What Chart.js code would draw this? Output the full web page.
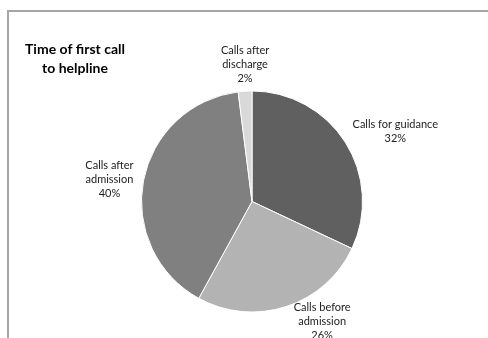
<!DOCTYPE html>
<html>
<head>
<meta charset="utf-8">
<script src="https://cdn.jsdelivr.net/npm/chart.js@4/dist/chart.umd.min.js"></script>
<style>
  html, body { margin: 0; padding: 0; background: #fff; overflow: hidden; }
  #wrap { position: relative; width: 488px; height: 338px; }
  #frame {
    position: absolute; left: 7px; top: 10px; width: 600px; height: 400px;
    border-left: 2px solid #a6a6a6; border-top: 2px solid #a6a6a6;
  }
  #chart { position: absolute; left: 0; top: 0; }
</style>
</head>
<body>
<div id="wrap">
  <div id="frame"></div>
  <canvas id="chart" width="488" height="338"></canvas>
</div>
<script>
const categories = ["Calls for guidance", "Calls before admission", "Calls after admission", "Calls after discharge"];
const labelLines = [["Calls for guidance"], ["Calls before", "admission"], ["Calls after", "admission"], ["Calls after", "discharge"]];
const percents = [32, 26, 40, 2];
const sliceColors = ["#606060", "#b3b3b3", "#808080", "#d9d9d9"];

// nudge of each label away from the edge of its slice
const labelOffsets = [
  { dx: 50, dy: -11 },
  { dx: 36, dy: 15 },
  { dx: -34, dy: -1 },
  { dx: 0, dy: -27 }
];

const labelFont = "11px Lato, 'DejaVu Sans', sans-serif";

const pieLabels = {
  id: "pieLabels",
  afterDraw(chart) {
    const ctx = chart.ctx;
    ctx.save();

    // title block on the left
    ctx.fillStyle = "#000";
    ctx.font = "bold 14px Lato, 'DejaVu Sans', sans-serif";
    ctx.textAlign = "center";
    ctx.textBaseline = "middle";
    ctx.fillText("Time of first call", 75, 49);
    ctx.fillText("to helpline", 75, 68);

    ctx.font = labelFont;
    ctx.fillStyle = "#222";
    const meta = chart.getDatasetMeta(0);
    meta.data.forEach((arc, i) => {
      const mid = (arc.startAngle + arc.endAngle) / 2;
      const ex = arc.x + Math.cos(mid) * arc.outerRadius;
      const ey = arc.y + Math.sin(mid) * arc.outerRadius;
      const cx = ex + labelOffsets[i].dx;
      const cy = ey + labelOffsets[i].dy;
      const lines = labelLines[i].concat([percents[i] + "%"]);
      const lh = 14;
      const top = cy - (lines.length - 1) * lh / 2;
      lines.forEach((t, j) => ctx.fillText(t, cx, top + j * lh));
    });
    ctx.restore();
  }
};

new Chart(document.getElementById("chart"), {
  type: "pie",
  data: {
    labels: categories,
    datasets: [{
      data: percents,
      backgroundColor: sliceColors,
      borderColor: "#ffffff",
      borderWidth: 1
    }]
  },
  options: {
    responsive: false,
    animation: false,
    layout: { padding: { left: 141, right: 125, top: 90, bottom: 25 } },
    plugins: {
      legend: { display: false },
      tooltip: { enabled: false },
      title: { display: false }
    }
  },
  plugins: [pieLabels]
});
</script>
</body>
</html>
